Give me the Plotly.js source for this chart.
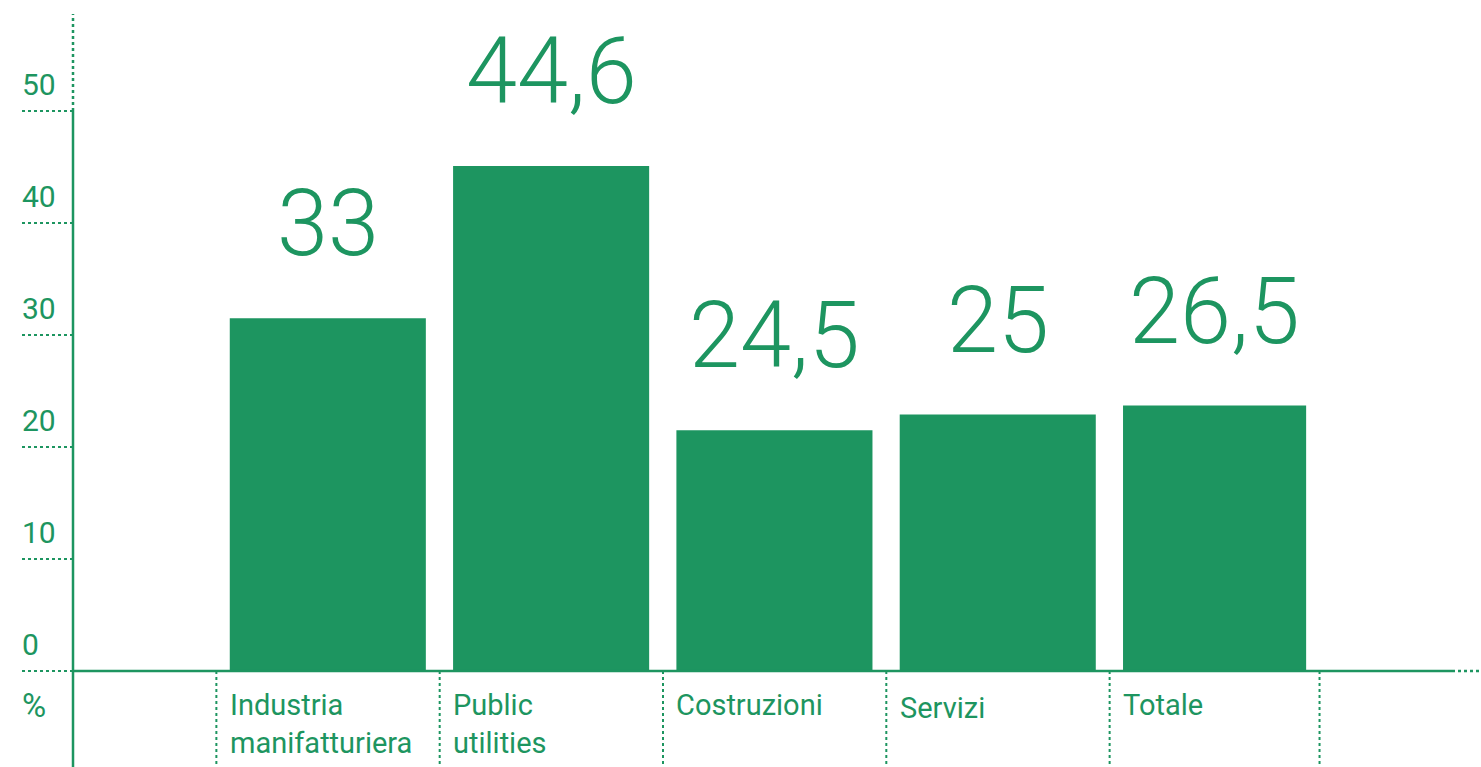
<!DOCTYPE html>
<html>
<head>
<meta charset="utf-8">
<script src="https://cdn.plot.ly/plotly-3.0.1.min.js"></script>
<style>html,body{margin:0;padding:0;background:#fff;}#chart{width:1481px;height:767px;}</style>
</head>
<body>
<div id="chart"></div>
<script>
// Data
var categories = ["Industria<br>manifatturiera", "Public<br>utilities", "Costruzioni", "Servizi", "Totale"];
var barHeights = [31.5, 45.1, 21.5, 22.9, 23.7];
var valueLabels = ["33", "44,6", "24,5", "25", "26,5"];
var yTickValues = [0, 10, 20, 30, 40, 50];
var yTickLabels = ["0", "10", "20", "30", "40", "50"];
var unitLabel = "%";

var GREEN = "#1d9560";
var FONT = "Roboto, 'Noto Sans', sans-serif";
var idx = categories.map(function (_, i) { return i; });
var barWidths = [0.878, 0.878, 0.878, 0.878, 0.82];
var catLabelShift = [0, 0, 0, -3, 0];

var trace = {
  type: "bar",
  x: idx,
  y: barHeights,
  width: barWidths,
  offset: -0.44,
  marker: { color: GREEN, line: { width: 0 } },
  hoverinfo: "skip"
};

var annotations = [];
// value labels above bars
valueLabels.forEach(function (t, i) {
  annotations.push({
    x: i + (barWidths[i] / 2 - 0.44), y: barHeights[i], xref: "x", yref: "y",
    text: t, showarrow: false, xanchor: "center", yanchor: "bottom", yshift: 39,
    font: { family: FONT, size: 92, color: GREEN, weight: 300 }
  });
});
// category labels
categories.forEach(function (c, i) {
  annotations.push({
    x: i - 0.44, y: 0, xref: "x", yref: "y",
    text: c, showarrow: false, xanchor: "left", yanchor: "top", xshift: -2, yshift: -15 + catLabelShift[i], align: "left",
    font: { family: FONT, size: 29, color: GREEN }
  });
});
// y tick labels (left-aligned, above dotted tick lines)
var PLOT_L = 73, PLOT_W = 1408;
var tickLeftPaper = (20 - PLOT_L) / PLOT_W;
yTickValues.forEach(function (v, i) {
  annotations.push({
    x: tickLeftPaper, y: v, xref: "paper", yref: "y",
    text: yTickLabels[i], showarrow: false, xanchor: "left", yanchor: "bottom", yshift: 7,
    font: { family: FONT, size: 30, color: GREEN }
  });
});
annotations.push({
  x: tickLeftPaper, y: 0, xref: "paper", yref: "y",
  text: unitLabel, showarrow: false, xanchor: "left", yanchor: "top", yshift: -13,
  font: { family: FONT, size: 33, color: GREEN }
});

var shapes = [];
var dotLeftPaper = (22 - PLOT_L) / PLOT_W;
// dotted tick lines at left
yTickValues.forEach(function (v) {
  shapes.push({ type: "line", xref: "paper", yref: "y", x0: dotLeftPaper, x1: 0, y0: v, y1: v,
    line: { color: GREEN, width: 2, dash: "dot" } });
});
// y axis: solid up to 50, dotted above
shapes.push({ type: "line", xref: "paper", yref: "y", x0: 0, x1: 0, y0: -8.57, y1: 50,
  line: { color: GREEN, width: 2.5 } });
shapes.push({ type: "line", xref: "paper", yref: "y", x0: 0, x1: 0, y0: 50, y1: 58.66,
  line: { color: GREEN, width: 2.5, dash: "dot" } });
// baseline: solid, then dotted at the right end
var baseSolidEnd = (1452 - PLOT_L) / PLOT_W;
shapes.push({ type: "line", xref: "paper", yref: "y", x0: 0, x1: baseSolidEnd, y0: 0, y1: 0,
  line: { color: GREEN, width: 2.5 } });
shapes.push({ type: "line", xref: "paper", yref: "y", x0: baseSolidEnd, x1: 1, y0: 0, y1: 0,
  line: { color: GREEN, width: 2.5, dash: "dot" } });
// vertical dotted separators under the baseline
var separators = [-0.5, 0.5, 1.5, 2.5, 3.5, 4.44];
separators.forEach(function (s) {
  shapes.push({ type: "line", xref: "x", yref: "y", x0: s, x1: s, y0: 0, y1: -8.57,
    line: { color: GREEN, width: 2, dash: "dot" } });
});

var layout = {
  width: 1481, height: 767,
  margin: { l: PLOT_L, r: 0, t: 14, b: 0, pad: 0 },
  paper_bgcolor: "#fff", plot_bgcolor: "#fff",
  showlegend: false,
  xaxis: { range: [-1.142, 5.163], visible: false, fixedrange: true },
  yaxis: { range: [-8.57, 58.66], visible: false, fixedrange: true },
  annotations: annotations,
  shapes: shapes
};

Plotly.newPlot("chart", [trace], layout, { displayModeBar: false, staticPlot: true });
</script>
</body>
</html>
